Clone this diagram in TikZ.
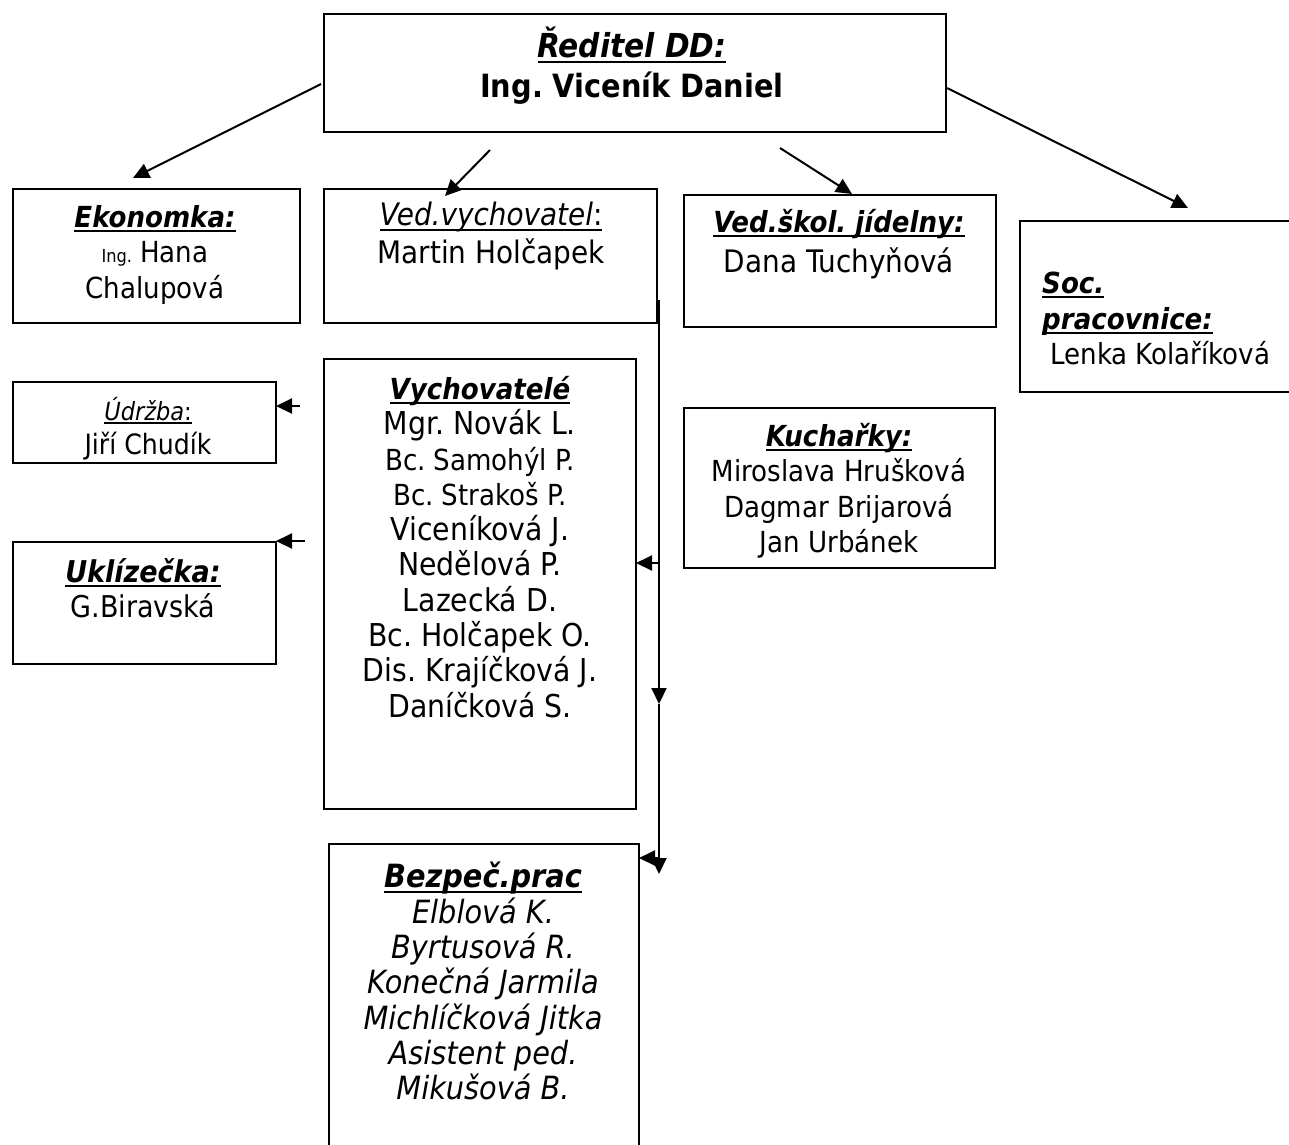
\documentclass[tikz,border=0pt]{standalone}
\usepackage{fontspec}
\setmainfont{DejaVu Sans Condensed}
\usetikzlibrary{arrows.meta}
\newsavebox{\ulbox}
\newcommand{\ul}[1]{\sbox{\ulbox}{#1}\leavevmode\rlap{\rule[-0.16em]{\wd\ulbox}{2pt}}\usebox{\ulbox}}
\newcommand{\ttl}[1]{\ul{\textbf{\textit{#1}}}}
\newcommand{\fs}[1]{\fontsize{#1}{35}\selectfont}
\frenchspacing
\begin{document}
\frenchspacing
\begin{tikzpicture}[x=1pt,y=-1pt,
  box/.style={draw, line width=2pt, anchor=north west, inner sep=0pt},
  arr/.style={line width=2pt, -{Triangle[length=16pt,width=15pt]}},
  txt/.style={align=center, inner sep=0pt, anchor=north},
  fa/.style={font=\fontsize{29}{35.5}\selectfont}]
\useasboundingbox (0,0) rectangle (1289,1144);
% boxes
\node[box, minimum width=622pt, minimum height=118pt] (red) at (323,13) {};
\node[box, minimum width=287pt, minimum height=134pt] (eko) at (12,188) {};
\node[box, minimum width=333pt, minimum height=134pt] (ved) at (323,188) {};
\node[box, minimum width=312pt, minimum height=132pt] (jid) at (683,194) {};
\node[box, minimum width=290pt, minimum height=171pt] (soc) at (1019,220) {};
\node[box, minimum width=263pt, minimum height=81pt] (udr) at (12,381) {};
\node[box, minimum width=263pt, minimum height=122pt] (ukl) at (12,541) {};
\node[box, minimum width=312pt, minimum height=450pt] (vych) at (323,358) {};
\node[box, minimum width=311pt, minimum height=160pt] (kuch) at (683,407) {};
\node[box, minimum width=310pt, minimum height=320pt] (bez) at (328,843) {};
% texts
\node[txt, font=\fontsize{32}{40}\selectfont] (redT) at (632,27) {{\fontsize{33}{40}\selectfont\ttl{Ředitel DD:}}\\ \textbf{Ing. Viceník Daniel}};
\node[txt, fa] (ekoT) at (155,205) {\ttl{Ekonomka:}\\ {\fontsize{18}{18}\selectfont Ing.} Hana\\ Chalupová};
\node[txt, font=\fontsize{31}{38}\selectfont] (vedT) at (491,202) {\ul{\textit{Ved.vychovatel}:}\\ Martin Holčapek};
\node[txt, font=\fontsize{29}{40}\selectfont] (jidT) at (839,209) {\ttl{Ved.škol. jídelny:}\\ {\fs{31}Dana Tuchyňová}};
\node[txt, fa, align=left, anchor=north west] (socT) at (1042,272) {\ttl{Soc.}\\ \ttl{pracovnice:}\\ \ Lenka Kolaříková};
\node[txt, font=\fontsize{25}{34}\selectfont] (udrT) at (148,397) {\ul{\textit{Údržba}:}\\ {\fs{28}Jiří Chudík}};
\node[txt, font=\fontsize{30}{35}\selectfont] (uklT) at (143,558) {\ttl{Uklízečka:}\\ G.Biravská};
\node[txt, font=\fontsize{31.5}{35.3}\selectfont] (vychT) at (480,376) {{\fontsize{29}{37}\selectfont\ttl{Vychovatelé}}\\ Mgr. Novák L.\\ {\fs{29}Bc. Samohýl P.}\\ {\fs{29}Bc. Strakoš P.}\\ Viceníková J.\\ Nedělová P.\\ Lazecká D.\\ Bc. Holčapek O.\\ Dis. Krajíčková J.\\ Daníčková S.};
\node[txt, font=\fontsize{29}{35.3}\selectfont] (kuchT) at (839,423) {\ttl{Kuchařky:}\\ Miroslava Hrušková\\ Dagmar Brijarová\\ Jan Urbánek};
\node[txt, font=\fontsize{32}{35.3}\selectfont] (bezT) at (483,862) {\ttl{Bezpeč.prac}\\ \textit{Elblová K.}\\ \textit{Byrtusová R.}\\ \textit{Konečná Jarmila}\\ \textit{Michlíčková Jitka}\\ \textit{Asistent ped.}\\ \textit{Mikušová B.}};
% connector points
\coordinate (r1) at (321,84);  \coordinate (e1) at (133,178);
\coordinate (r2) at (490,150); \coordinate (v1) at (445,196);
\coordinate (r3) at (780,148); \coordinate (j1) at (852,194);
\coordinate (r4) at (947,88);  \coordinate (s1) at (1188,208);
\coordinate (v2) at (659,300); \coordinate (m1) at (659,704); \coordinate (m2) at (659,874);
\coordinate (h1) at (659,563); \coordinate (h1t) at (636,563);
\coordinate (h2) at (659,858); \coordinate (h2t) at (639,858);
\coordinate (u1) at (300,406); \coordinate (u1t) at (276,406);
\coordinate (u2) at (305,541); \coordinate (u2t) at (276,541);
% connectors
\draw[arr] (r1) -- (e1);
\draw[arr] (r2) -- (v1);
\draw[arr] (r3) -- (j1);
\draw[arr] (r4) -- (s1);
\draw[arr] (v2) -- (m1);
\draw[arr] (m1) -- (m2);
\draw[arr] (h1) -- (h1t);
\draw[arr] (h2) -- (h2t);
\draw[arr] (u1) -- (u1t);
\draw[arr] (u2) -- (u2t);
\end{tikzpicture}
\end{document}
